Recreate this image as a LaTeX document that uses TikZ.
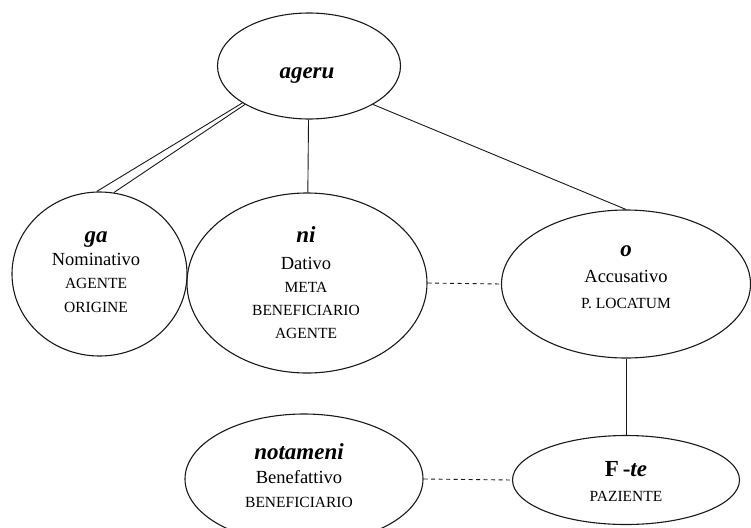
\documentclass[tikz,border=0pt]{standalone}
\usepackage{fontspec}
\setmainfont{Liberation Serif}
\usetikzlibrary{shapes.geometric}

\tikzset{
  cell/.style={draw=black!90, line width=1.1pt, ellipse, inner sep=0pt},
  nm/.style={anchor=base, inner sep=0pt, font=\fontsize{23}{23}\selectfont\bfseries\itshape},
  lc/.style={anchor=base, inner sep=0pt, font=\fontsize{18.5}{20}\selectfont},
  uc/.style={anchor=base, inner sep=0pt, font=\fontsize{15.5}{18}\selectfont},
  link/.style={draw=black!90, line width=0.9pt},
  dotlink/.style={link, dash pattern=on 4pt off 3.5pt}
}

\begin{document}
\begin{tikzpicture}[x=1pt, y=-1pt]
  \useasboundingbox (0,0) rectangle (751,527);

  % case ellipses
  \node[cell, minimum width=183pt, minimum height=106pt] (ageru) at (309,66) {};
  \node[cell, minimum width=175pt, minimum height=164pt] (ga) at (99.5,274) {};
  \node[cell, minimum width=240pt, minimum height=180pt] (ni) at (307,283) {};
  \node[cell, minimum width=249pt, minimum height=148pt] (o) at (626,284) {};
  \node[cell, minimum width=238pt, minimum height=130pt] (notameni) at (304,479) {};
  \node[cell, minimum width=227pt, minimum height=89pt] (Fte) at (626,480) {};

  % labels
  \node[nm] (tAgeru) at (307,78) {ageru};

  \node[nm] (tGa) at (96,242) {ga};
  \node[lc] (tGa1) at (96,265) {Nominativo};
  \node[uc] (tGa2) at (96,288) {AGENTE};
  \node[uc] (tGa3) at (96,312.5) {ORIGINE};

  \node[nm] (tNi) at (306,242) {ni};
  \node[lc] (tNi1) at (306,269) {Dativo};
  \node[uc] (tNi2) at (306,292) {META};
  \node[uc] (tNi3) at (306,315) {BENEFICIARIO};
  \node[uc] (tNi4) at (306,338.5) {AGENTE};

  \node[nm] (tO) at (626,256) {o};
  \node[lc] (tO1) at (626,282) {Accusativo};
  \node[uc] (tO2) at (626,308) {P. LOCATUM};

  \node[nm] (tNot) at (299,459) {notameni};
  \node[lc] (tNot1) at (299,483.5) {Benefattivo};
  \node[uc] (tNot2) at (299,507) {BENEFICIARIO};

  \node[nm] (tFte) at (626,476) {\upshape F\,-\itshape te};
  \node[uc] (tFte1) at (626,501.5) {PAZIENTE};

  % connectors
  \draw[link] (ageru.209) -- (ga.92);
  \draw[link] (ageru.211) -- (ga.80);
  \draw[link] (ageru) -- (ni);
  \draw[link] (ageru.-31) -- (o.north);
  \draw[link] (o) -- (Fte);
  \draw[dotlink] (ni.east) -- (o.west);
  \draw[dotlink] (notameni.east) -- (Fte.west);
\end{tikzpicture}
\end{document}
